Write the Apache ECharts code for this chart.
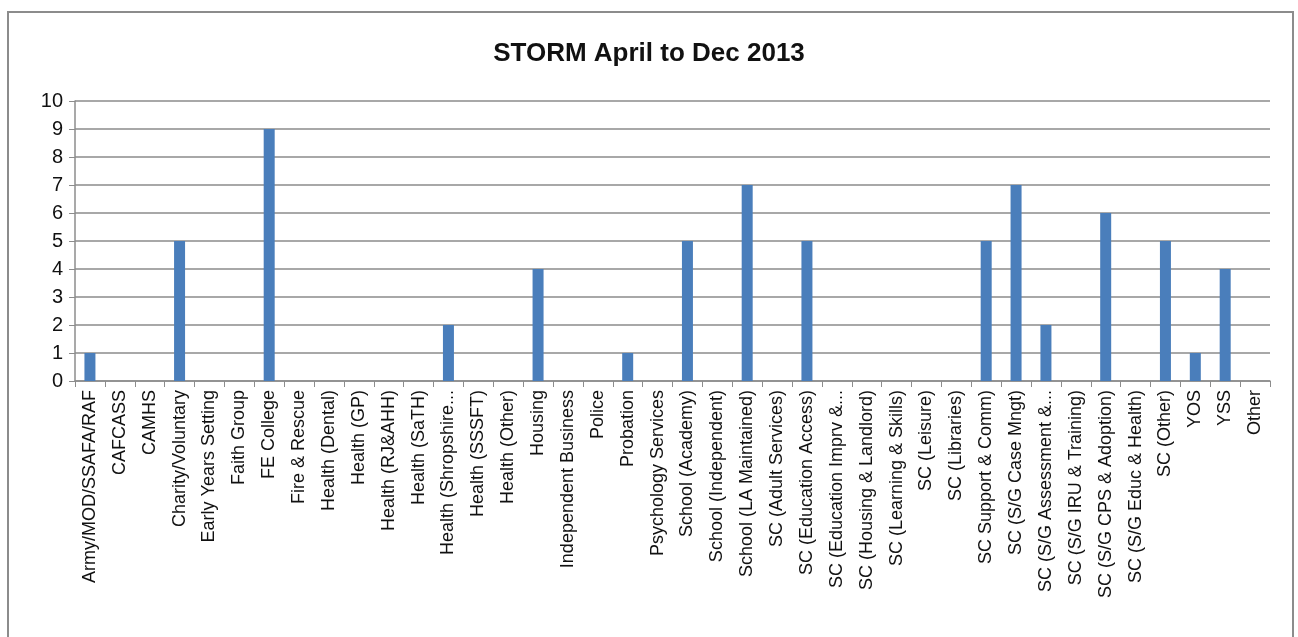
<!DOCTYPE html>
<html>
<head>
<meta charset="utf-8">
<script src="https://cdn.jsdelivr.net/npm/echarts@6/dist/echarts.min.js"></script>
<style>
html,body{margin:0;padding:0;background:#fff;}
#chart{width:1298px;height:637px;}
</style>
</head>
<body>
<div id="chart"></div>
<script>
const categories = [
    'Army/MOD/SSAFA/RAF', 'CAFCASS', 'CAMHS', 'Charity/Voluntary', 'Early Years Setting',
    'Faith Group', 'FE College', 'Fire & Rescue', 'Health (Dental)', 'Health (GP)',
    'Health (RJ&AHH)', 'Health (SaTH)', 'Health (Shropshire...', 'Health (SSSFT)', 'Health (Other)',
    'Housing', 'Independent Business', 'Police', 'Probation', 'Psychology Services',
    'School (Academy)', 'School (Independent)', 'School (LA Maintained)', 'SC (Adult Services)', 'SC (Education Access)',
    'SC (Education Imprv &...', 'SC (Housing & Landlord)', 'SC (Learning & Skills)', 'SC (Leisure)', 'SC (Libraries)',
    'SC Support & Comm)', 'SC (S/G Case Mngt)', 'SC (S/G Assessment &...', 'SC (S/G IRU & Training)', 'SC (S/G CPS & Adoption)',
    'SC (S/G Educ & Health)', 'SC (Other)', 'YOS', 'YSS', 'Other'
];
const counts = [
    1, 0, 0, 5, 0,
    0, 9, 0, 0, 0,
    0, 0, 2, 0, 0,
    4, 0, 0, 1, 0,
    5, 0, 7, 0, 5,
    0, 0, 0, 0, 0,
    5, 7, 2, 0, 6,
    0, 5, 1, 4, 0
];
const yTicks = { min: 0, max: 10, interval: 1 };

const chart = echarts.init(document.getElementById('chart'));
chart.setOption({
    animation: false,
    textStyle: { fontFamily: 'Liberation Sans, sans-serif' },
    title: {
        text: 'STORM April to Dec 2013',
        left: 'center',
        top: 36,
        textStyle: { fontSize: 26, fontWeight: 'bold', color: '#111', fontFamily: 'Liberation Sans, sans-serif' }
    },
    graphic: [{
        type: 'rect',
        shape: { x: 8, y: 12, width: 1285, height: 640 },
        style: { fill: 'none', stroke: '#8c8c8c', lineWidth: 2 }
    }],
    grid: { left: 75, right: 28, top: 101, bottom: 256 },
    xAxis: {
        type: 'category',
        data: categories,
        axisLine: { lineStyle: { color: '#8c8c8c', width: 1.5 } },
        axisTick: { show: true, length: 6, lineStyle: { color: '#8c8c8c' } },
        axisLabel: { rotate: 90, interval: 0, fontSize: 18, color: '#111', margin: 9 }
    },
    yAxis: {
        type: 'value',
        min: yTicks.min,
        max: yTicks.max,
        interval: yTicks.interval,
        axisLine: { show: true, lineStyle: { color: '#8c8c8c', width: 1.5 } },
        axisTick: { show: true, length: 6, lineStyle: { color: '#8c8c8c' } },
        axisLabel: { fontSize: 20, color: '#111', margin: 12 },
        splitLine: { lineStyle: { color: '#a8a8a8', width: 2 } }
    },
    series: [{
        type: 'bar',
        data: counts,
        barWidth: 11,
        itemStyle: { color: '#4a7ebb' }
    }]
});
</script>
</body>
</html>
